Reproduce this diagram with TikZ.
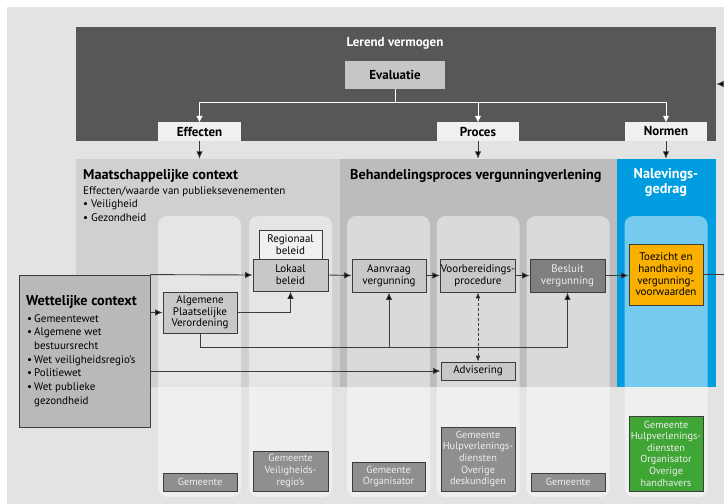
\documentclass[tikz,border=0pt]{standalone}
\usepackage{fontspec}
\setmainfont{PT Sans}
\usetikzlibrary{arrows.meta, positioning, calc}

\definecolor{achtergrond}{HTML}{E3E3E3}
\definecolor{donker}{HTML}{575756}
\definecolor{lijn}{HTML}{3C3C3B}
\definecolor{kopvak}{HTML}{F0F0F0}
\definecolor{evalgrijs}{HTML}{C6C6C6}
\definecolor{maatgrijs}{HTML}{D0D0D0}
\definecolor{procesgrijs}{HTML}{BCBCBC}
\definecolor{naleefblauw}{HTML}{009EE0}
\definecolor{vakgrijs}{HTML}{C8C8C8}
\definecolor{wetgrijs}{HTML}{B9B9B9}
\definecolor{actorgrijs}{HTML}{8F8F8F}
\definecolor{besluitgrijs}{HTML}{7F7F7F}
\definecolor{lichttekst}{HTML}{EEEEEE}
\definecolor{oranje}{HTML}{F9B000}
\definecolor{groen}{HTML}{3FA535}

\newcommand{\vaktekst}{\fontsize{11}{11.6}\selectfont}
\newcommand{\lijsttekst}{\fontsize{11}{13.7}\selectfont}
\newcommand{\actortekst}{\fontsize{10.3}{11.6}\selectfont}
\newcommand{\kopletter}{\fontsize{13}{14}\selectfont\bfseries}
\newcommand{\sectieletter}{\fontsize{14.2}{15}\selectfont\bfseries}

\begin{document}
\begin{tikzpicture}[
    x=1pt, y=-1pt,
    sectie/.style={draw=none, minimum height=228, inner sep=0pt},
    kolom/.style={draw=none, fill=white, fill opacity=0.46, rounded corners=9pt,
                  minimum width=83, minimum height=281, inner sep=0pt},
    kopvakje/.style={draw=none, fill=kopvak, minimum width=82, minimum height=19,
                     inner sep=0pt, font=\kopletter},
    vak/.style={draw=lijn, line width=0.8pt, fill=vakgrijs, minimum width=74,
                minimum height=33, inner sep=0.5pt, align=center, font=\vaktekst},
    actor/.style={draw=lijn, line width=0.8pt, fill=actorgrijs, text=lichttekst,
                  minimum width=74, inner sep=0.5pt, align=center, font=\actortekst},
    pijl/.style={-{Latex[length=7.5pt,width=6.5pt,fill=black]}, draw=lijn, line width=0.9pt},
    lijnstuk/.style={draw=lijn, line width=0.9pt},
    witpijl/.style={-{Triangle[length=6pt,width=6pt]}, draw=white, line width=0.8pt},
]
\useasboundingbox (0,0) rectangle (724,504);

% achtergrond
\fill[achtergrond] (7,7) rectangle (724,504);

% lerend vermogen
\node[fill=donker, minimum width=640, minimum height=114, inner sep=0pt] (lerend) at (396,84) {};
\node[text=white, font=\kopletter] (lerendtitel) at (395,43) {Lerend vermogen};
\node[fill=evalgrijs, minimum width=100, minimum height=28, inner sep=0pt, font=\kopletter] (evaluatie) at (395,75) {Evaluatie};

\node[kopvakje, minimum width=83] (effecten) at (199.5,131.5) {Effecten};
\node[kopvakje] (proces) at (478,131.5) {Proces};
\node[kopvakje] (normen) at (666,131.5) {Normen};

\draw[witpijl] (evaluatie.south) -- ++(0,13) -| (effecten.north);
\draw[witpijl] (evaluatie.south) -- ++(0,13) -| (proces.north);
\draw[witpijl] (evaluatie.south) -- ++(0,13) -| (normen.north);

% secties
\node[sectie, fill=maatgrijs, minimum width=264] (maatschappij) at (208,273) {};
\node[sectie, fill=procesgrijs, minimum width=277] (behandeling) at (478.5,273) {};
\node[sectie, fill=naleefblauw, minimum width=99] (naleving) at (666.5,273) {};

\draw[pijl] (effecten.south) -- (effecten.south |- maatschappij.north);
\draw[pijl] (proces.south) -- (proces.south |- behandeling.north);
\draw[pijl] (normen.south) -- (normen.south |- naleving.north);

% kolommen
\node[kolom] (kolom1) at (199.5,356.5) {};
\node[kolom] (kolom2) at (290.5,356.5) {};
\node[kolom] (kolom3) at (388.5,356.5) {};
\node[kolom] (kolom4) at (478,356.5) {};
\node[kolom] (kolom5) at (568,356.5) {};
\node[kolom] (kolom6) at (666,356.5) {};

% teksten secties
\node[anchor=base west, inner sep=0pt, font=\sectieletter] (maattitel) at (83,179) {Maatschappelijke context};
\node[anchor=north west, inner sep=0pt, align=left, font=\fontsize{11}{13.5}\selectfont] (maatlijst) at (83,186)
    {Effecten/waarde van publieksevenementen\\• Veiligheid\\• Gezondheid};
\node[anchor=base west, inner sep=0pt, font=\sectieletter] (behandeltitel) at (350,179) {Behandelingsproces vergunningverlening};
\node[text=white, align=center, font=\sectieletter] (naleeftitel) at (666,182) {Nalevings-\\gedrag};

% wettelijke context
\node[draw=lijn, line width=0.8pt, fill=wetgrijs, minimum width=131, minimum height=152, inner sep=0pt] (wet) at (84.5,351) {};
\node[anchor=base west, inner sep=0pt, font=\sectieletter] (wettitel) at (26,305) {Wettelijke context};
\node[anchor=north west, inner sep=0pt, align=left, font=\lijsttekst] (wetlijst) at (27,314)
    {\makebox[7pt][l]{•}Gemeentewet\\
     \makebox[7pt][l]{•}Algemene wet\\
     \hspace*{7pt}bestuursrecht\\
     \makebox[7pt][l]{•}Wet veiligheidsregio’s\\
     \makebox[7pt][l]{•}Politiewet\\
     \makebox[7pt][l]{•}Wet publieke\\
     \hspace*{7pt}gezondheid};

% processtappen
\node[vak, fill=kopvak, minimum width=63, minimum height=29] (regionaal) at (290.5,244.5) {Regionaal\\beleid};
\node[vak, minimum width=75, minimum height=32] (lokaal) at (290.5,275) {Lokaal\\beleid};
\node[vak, minimum height=41] (apv) at (200,312.5) {Algemene\\Plaatselijke\\Verordening};
\node[vak] (aanvraag) at (389,275.5) {Aanvraag\\vergunning};
\node[vak] (voorbereiding) at (478,275.5) {Voorbereidings-\\procedure};
\node[vak, fill=besluitgrijs, text=lichttekst, minimum width=75] (besluit) at (567.5,275.5) {Besluit\\vergunning};
\node[vak, minimum height=18] (advisering) at (478,371) {Advisering};
\node[vak, fill=oranje, minimum height=61] (toezicht) at (666,274.5) {Toezicht en\\handhaving\\vergunning-\\voorwaarden};

% actoren
\node[actor, minimum height=18] (actor1) at (200,482) {Gemeente};
\node[actor, minimum width=75, minimum height=40] (actor2) at (290.5,471) {Gemeente\\Veiligheids-\\regio’s};
\node[actor, minimum width=73, minimum height=29] (actor3) at (388.5,476.5) {Gemeente\\Organisator};
\node[actor, minimum height=64] (actor4) at (478,459) {Gemeente\\Hulpverlenings-\\diensten\\Overige\\deskundigen};
\node[actor, minimum height=18] (actor5) at (568,482) {Gemeente};
\node[actor, fill=groen, minimum height=75] (actor6) at (666,453.5) {Gemeente\\Hulpverlenings-\\diensten\\Organisator\\Overige\\handhavers};

% pijlen
\draw[pijl] (wet.north east) -- (lokaal.west);
\draw[pijl] (wet.east |- apv.west) -- (apv.west);
\draw[pijl] (apv.east) -| (lokaal.south);
\draw[pijl] (lokaal.east) -- (aanvraag.west);
\draw[pijl] (aanvraag.east) -- (voorbereiding.west);
\draw[pijl] (voorbereiding.east) -- (besluit.west);
\draw[pijl] (besluit.east) -- (toezicht.west |- besluit.east);
\draw[pijl] (wet.east |- advisering.west) -- (advisering.west);
\coordinate (knik) at (200,347);
\draw[lijnstuk] (apv.south) -- (knik);
\draw[pijl] (knik) -| (aanvraag.south);
\draw[pijl] (knik) -| (besluit.south);
\draw[pijl, {Latex[length=6pt,width=5pt,fill=black]}-{Latex[length=6pt,width=5pt,fill=black]}, densely dashed]
    (voorbereiding.south) -- (advisering.north);
\draw[pijl] (toezicht.east) -- ++(40,0) |- (lerend.east);

\end{tikzpicture}
\end{document}
